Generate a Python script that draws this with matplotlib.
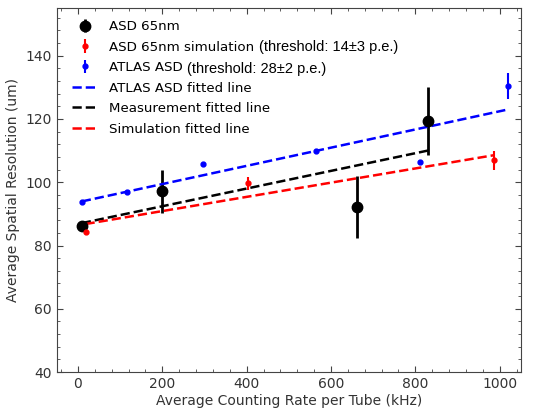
import numpy as np
import matplotlib
matplotlib.use("Agg")
import matplotlib.pyplot as plt
from matplotlib.ticker import AutoMinorLocator

# ASD 65nm measurement
asd_x = [9, 200, 661, 831]
asd_y = [86.1, 97.2, 92.2, 119.3]
asd_err = [1.5, 6.8, 9.7, 10.8]

# ASD 65nm simulation
sim_x = [18, 404, 987]
sim_y = [84.3, 99.6, 106.9]
sim_err = [0.8, 2.0, 3.0]

# ATLAS ASD
atlas_x = [9, 117, 297, 564, 810, 1020]
atlas_y = [93.8, 96.9, 105.6, 109.9, 106.4, 130.4]
atlas_err = [0.5, 0.5, 0.5, 0.5, 0.5, 4.0]

fig = plt.figure(figsize=(5.47, 4.08), dpi=100)
ax = fig.add_axes([0.104, 0.088, 0.848, 0.892])

handles = []
handles.append(ax.errorbar(asd_x, asd_y, yerr=asd_err, fmt="o", color="black", ms=7.5,
                           elinewidth=2, label="ASD 65nm"))
handles.append(ax.errorbar(sim_x, sim_y, yerr=sim_err, fmt="o", color="red", ms=3.5,
                           elinewidth=1.5, label="ASD 65nm simulation"))
handles.append(ax.errorbar(atlas_x, atlas_y, yerr=atlas_err, fmt="o", color="blue", ms=3.5,
                           elinewidth=1.5, label="ATLAS ASD"))

# linear fits
for xs, ys, col, lab in [(atlas_x, atlas_y, "blue", "ATLAS ASD fitted line"),
                         (asd_x, asd_y, "black", "Measurement fitted line"),
                         (sim_x, sim_y, "red", "Simulation fitted line")]:
    p = np.polyfit(xs, ys, 1)
    xx = np.array([min(xs), max(xs)])
    line, = ax.plot(xx, np.polyval(p, xx), "--", color=col, lw=1.8, label=lab)
    handles.append(line)

ax.set_xlim(-50, 1050)
ax.set_ylim(40, 155)
ax.set_xlabel("Average Counting Rate per Tube (kHz)", fontsize=10, color="#333333",
              labelpad=2)
ax.set_ylabel("Average Spatial Resolution (um)", fontsize=10, color="#333333")
ax.xaxis.set_minor_locator(AutoMinorLocator(5))
ax.yaxis.set_minor_locator(AutoMinorLocator(5))
ax.tick_params(which="both", direction="in", top=True, right=True, labelsize=10,
               labelcolor="#333333", color="#444444")
ax.tick_params(which="major", length=4)
ax.tick_params(which="minor", length=2)
for s in ax.spines.values():
    s.set_color("#444444")

ax.legend(handles=handles, loc="upper left", bbox_to_anchor=(0.032, 0.967),
          frameon=False, fontsize=9.6, handlelength=2.0, labelspacing=0.56,
          borderaxespad=0, borderpad=0)

ax.text(0.435, 0.892, "(threshold: 14±3 p.e.)", transform=ax.transAxes,
        family="Liberation Sans", fontsize=10.5, va="center")
ax.text(0.2795, 0.833, "(threshold: 28±2 p.e.)", transform=ax.transAxes,
        family="Liberation Sans", fontsize=10.5, va="center")

fig.savefig("out.png", dpi=100)
